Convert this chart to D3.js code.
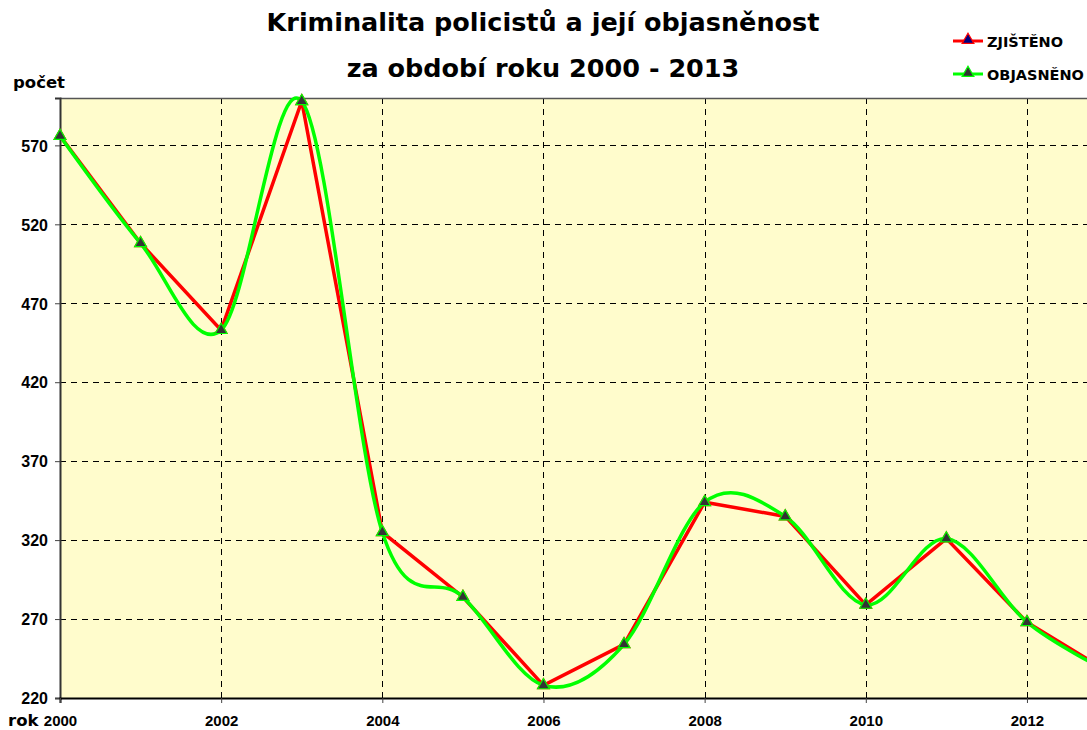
<!DOCTYPE html>
<html><head><meta charset="utf-8">
<script src="https://cdn.jsdelivr.net/npm/d3@7"></script>
<style>body{margin:0;background:#fff;overflow:hidden}svg{display:block}</style>
</head><body>
<script>
const years = [2000,2001,2002,2003,2004,2005,2006,2007,2008,2009,2010,2011,2012,2013];
const zjisteno = [576,508,453,598,325,284,228,254,344,335,279,321,268,237];
const objasneno = [576,508,453,598,325,284,228,254,344,335,279,321,268,237];
const yTicks = [220,270,320,370,420,470,520,570];
const xTicks = [2000,2002,2004,2006,2008,2010,2012];
const titleLines = ["Kriminalita policistů a její objasněnost","za období roku 2000 - 2013"];
const seriesNames = ["ZJIŠTĚNO","OBJASNĚNO"];

const W=1087,H=730;
const pL=60, pT=98, pB=698;
const x=d3.scaleLinear().domain([2000,2013]).range([pL,pL+13*80.58]);
const y=d3.scaleLinear().domain([220,600]).range([pB,pT]);
const svg=d3.select("body").append("svg").attr("width",W).attr("height",H);
const font="'Liberation Sans', Arial, sans-serif";
const heavy="'DejaVu Sans', sans-serif";

svg.append("rect").attr("x",pL).attr("y",pT).attr("width",x(2013)-pL).attr("height",pB-pT).attr("fill","#FFFCCC");

// grid
const grid=svg.append("g").attr("stroke","#000").attr("stroke-width",1).attr("stroke-dasharray","6,5");
grid.selectAll(".h").data(yTicks.slice(1)).join("line").attr("x1",pL).attr("x2",x(2013)).attr("y1",d=>Math.round(y(d))+0.5).attr("y2",d=>Math.round(y(d))+0.5);
grid.selectAll(".v").data(xTicks.slice(1)).join("line").attr("y1",pT).attr("y2",pB).attr("x1",d=>Math.round(x(d))+0.5).attr("x2",d=>Math.round(x(d))+0.5);

// border
svg.append("line").attr("x1",pL).attr("x2",x(2013)).attr("y1",pT+0.5).attr("y2",pT+0.5).attr("stroke","#555").attr("stroke-width",1.5);

// axes
const yAxis=d3.axisLeft(y).tickValues(yTicks).tickSize(5).tickFormat(d3.format("d"));
const gy=svg.append("g").attr("transform",`translate(${pL},0)`).call(yAxis);
gy.select(".domain").attr("stroke","#333").attr("stroke-width",2);
gy.selectAll(".tick line").attr("stroke","#444");
gy.selectAll("text").attr("font-family",font).attr("font-weight","bold").attr("font-size",16).attr("fill","#000").attr("x",-12).attr("dy","0.36em");
const xAxis=d3.axisBottom(x).tickValues(xTicks).tickSize(5).tickFormat(d3.format("d"));
const gx=svg.append("g").attr("transform",`translate(0,${pB})`).call(xAxis);
gx.select(".domain").attr("stroke","#000").attr("stroke-width",2);
gx.selectAll(".tick line").attr("stroke","#444");
gx.selectAll("text").attr("font-family",font).attr("font-weight","bold").attr("font-size",15).attr("fill","#000").attr("y",28).attr("dy",0);

svg.append("text").text("počet").attr("x",13).attr("y",88).attr("font-family",heavy).attr("font-weight","bold").attr("font-size",16.5);
svg.append("text").text("rok").attr("x",8).attr("y",726).attr("font-family",heavy).attr("font-weight","bold").attr("font-size",16.5);

// title
svg.append("g").selectAll("text").data(titleLines).join("text").text(d=>d)
  .attr("x",543).attr("y",(d,i)=>i?77:31).attr("text-anchor","middle")
  .attr("font-family",heavy).attr("font-weight","bold").attr("font-size",25.5).attr("fill","#000");

svg.append("clipPath").attr("id","c").append("rect").attr("x",pL-10).attr("y",pT-10).attr("width",x(2013)-pL+20).attr("height",pB-pT+20);
const plot=svg.append("g").attr("clip-path","url(#c)");
const lineR=d3.line().x((d,i)=>x(years[i])).y(d=>y(d));
const lineG=d3.line().x((d,i)=>x(years[i])).y(d=>y(d)).curve(d3.curveCardinal.tension(0));
plot.append("path").attr("d",lineR(zjisteno)).attr("fill","none").attr("stroke","#FF0000").attr("stroke-width",3.5);
plot.append("path").attr("d",lineG(objasneno)).attr("fill","none").attr("stroke","#00FF00").attr("stroke-width",3.5);
const tri=d3.symbol().type(d3.symbolTriangle).size(60);
plot.selectAll(".mr").data(zjisteno).join("path").attr("d",tri).attr("transform",(d,i)=>`translate(${x(years[i])},${y(d)})`).attr("fill","#000080").attr("stroke","#FF0000").attr("stroke-width",1.2);
plot.selectAll(".mg").data(objasneno).join("path").attr("d",tri).attr("transform",(d,i)=>`translate(${x(years[i])},${y(d)})`).attr("fill","#333333").attr("stroke","#00FF00").attr("stroke-width",1.2);

// legend
const lg=svg.append("g");
const lc=[["#FF0000","#000080"],["#00FF00","#333333"]];
seriesNames.forEach((n,i)=>{
  const yy=41+i*33;
  lg.append("line").attr("x1",953).attr("x2",983).attr("y1",yy).attr("y2",yy).attr("stroke",lc[i][0]).attr("stroke-width",3);
  lg.append("path").attr("d",tri).attr("transform",`translate(968,${yy-1})`).attr("fill",lc[i][1]).attr("stroke",lc[i][0]).attr("stroke-width",1.2);
  lg.append("text").text(n).attr("x",987).attr("y",yy+6).attr("font-family",heavy).attr("font-weight","bold").attr("font-size",14.5);
});
</script>
</body></html>
